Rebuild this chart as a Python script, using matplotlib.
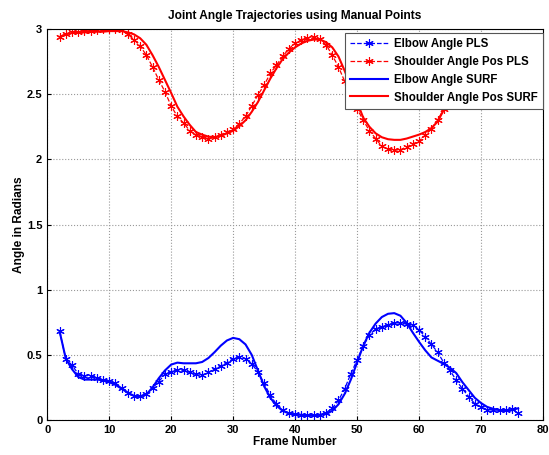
import numpy as np
import matplotlib
matplotlib.use("Agg")
import matplotlib.pyplot as plt

plt.rcParams['font.family'] = ['Liberation Sans', 'DejaVu Sans']
plt.rcParams['font.weight'] = 'bold'

frames = list(range(2, 77))

elbow_pls = [0.68, 0.47, 0.42, 0.355, 0.34, 0.34, 0.325, 0.31, 0.30, 0.28,
             0.245, 0.21, 0.185, 0.185, 0.20, 0.245, 0.295, 0.35, 0.37, 0.385,
             0.38, 0.365, 0.35, 0.345, 0.365, 0.39, 0.415, 0.44, 0.47, 0.485,
             0.47, 0.43, 0.37, 0.28, 0.19, 0.12, 0.075, 0.05, 0.045, 0.04,
             0.04, 0.04, 0.04, 0.055, 0.09, 0.15, 0.24, 0.355, 0.46, 0.57,
             0.65, 0.70, 0.715, 0.73, 0.745, 0.745, 0.735, 0.73, 0.69, 0.64,
             0.58, 0.52, 0.44, 0.38, 0.305, 0.24, 0.18, 0.125, 0.10, 0.08,
             0.075, 0.08, 0.08, 0.085, 0.05]

elbow_surf = [0.68, 0.47, 0.39, 0.33, 0.31, 0.31, 0.31, 0.305, 0.29, 0.27,
              0.24, 0.21, 0.185, 0.18, 0.195, 0.25, 0.32, 0.38, 0.425, 0.44,
              0.435, 0.435, 0.435, 0.445, 0.475, 0.52, 0.57, 0.61, 0.63, 0.62,
              0.58, 0.50, 0.38, 0.26, 0.17, 0.11, 0.07, 0.05, 0.04, 0.04,
              0.035, 0.035, 0.04, 0.045, 0.07, 0.12, 0.20, 0.31, 0.44, 0.57,
              0.67, 0.74, 0.79, 0.815, 0.82, 0.80, 0.745, 0.67, 0.60, 0.535,
              0.48, 0.455, 0.43, 0.40, 0.36, 0.29, 0.23, 0.17, 0.13, 0.10,
              0.085, 0.075, 0.07, 0.075, 0.09]

shoulder_pls = [2.94, 2.965, 2.975, 2.98, 2.985, 2.985, 2.99, 3.0, 3.0, 3.0,
                2.99, 2.96, 2.92, 2.87, 2.80, 2.71, 2.61, 2.52, 2.41, 2.33,
                2.28, 2.22, 2.19, 2.17, 2.16, 2.17, 2.19, 2.21, 2.23, 2.275,
                2.33, 2.41, 2.495, 2.57, 2.66, 2.725, 2.79, 2.85, 2.89, 2.92,
                2.93, 2.94, 2.925, 2.88, 2.80, 2.71, 2.60, 2.49, 2.39, 2.30,
                2.22, 2.16, 2.10, 2.08, 2.07, 2.075, 2.095, 2.12, 2.14, 2.185,
                2.235, 2.30, 2.39, 2.48, 2.58, 2.67, 2.75, 2.81, 2.86, 2.89,
                2.91, 2.92, 2.92, 2.92, 2.92]

shoulder_surf = [2.94, 2.96, 2.97, 2.975, 2.975, 2.98, 2.98, 2.98, 2.985, 2.985,
                 2.985, 2.975, 2.96, 2.93, 2.88, 2.80, 2.71, 2.61, 2.51, 2.405,
                 2.33, 2.265, 2.21, 2.19, 2.175, 2.17, 2.18, 2.20, 2.22, 2.255,
                 2.30, 2.365, 2.44, 2.53, 2.62, 2.70, 2.77, 2.82, 2.86, 2.89,
                 2.91, 2.92, 2.92, 2.90, 2.86, 2.79, 2.68, 2.56, 2.44, 2.32,
                 2.25, 2.20, 2.17, 2.155, 2.15, 2.15, 2.16, 2.175, 2.19, 2.21,
                 2.24, 2.29, 2.38, 2.47, 2.57, 2.66, 2.74, 2.80, 2.85, 2.88,
                 2.90, 2.91, 2.91, 2.91, 2.91]

fig = plt.figure(figsize=(5.49, 4.55), dpi=100)
ax = fig.add_axes([0.086, 0.077, 0.903, 0.859])

star = (6, 2, 0)
ax.plot(frames, elbow_pls, '--', color='blue', marker=star, markersize=6,
        markeredgewidth=0.8, linewidth=0.9, label='Elbow Angle PLS')
ax.plot(frames, shoulder_pls, '--', color='red', marker=star, markersize=6,
        markeredgewidth=0.8, linewidth=0.9, label='Shoulder Angle Pos PLS')
ax.plot(frames, elbow_surf, '-', color='blue', linewidth=1.5,
        label='Elbow Angle SURF')
ax.plot(frames, shoulder_surf, '-', color='red', linewidth=1.5,
        label='Shoulder Angle Pos SURF')

ax.set_xlim(0, 80)
ax.set_ylim(0, 3)
ax.set_xticks(np.arange(0, 81, 10))
ax.set_yticks([0, 0.5, 1, 1.5, 2, 2.5, 3])
ax.set_yticklabels(['0', '0.5', '1', '1.5', '2', '2.5', '3'])
ax.tick_params(labelsize=8, direction='in', length=3)
ax.grid(True, linestyle=':', color='#999999', linewidth=0.8)

ax.set_title('Joint Angle Trajectories using Manual Points', fontsize=8.6,
             fontweight='bold', pad=7)
ax.set_xlabel('Frame Number', fontsize=8.6, fontweight='bold', labelpad=1)
ax.set_ylabel('Angle in Radians', fontsize=8.6, fontweight='bold', labelpad=1)

leg = ax.legend(loc='upper right', bbox_to_anchor=(1.0, 0.99), fontsize=8.3,
                fancybox=False, framealpha=1, edgecolor='#555555',
                handlelength=3.3, borderaxespad=0, labelspacing=0.5,
                borderpad=0.45, handletextpad=0.5)
leg.get_frame().set_linewidth(0.8)

fig.savefig('out.png', dpi=100)
